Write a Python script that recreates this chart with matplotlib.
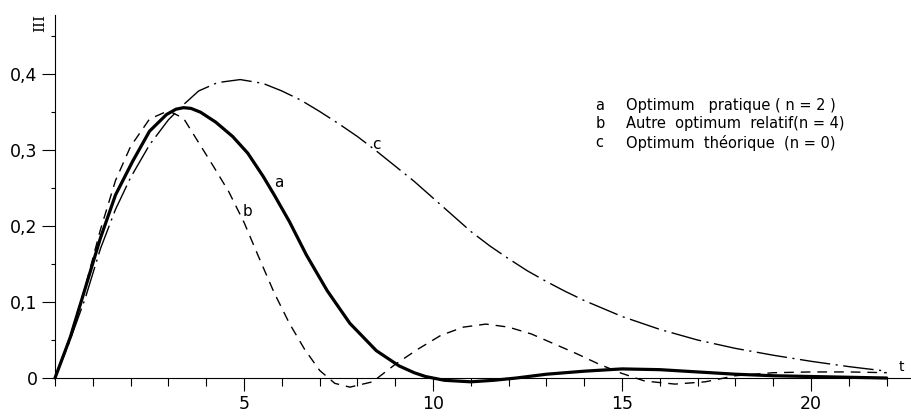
import matplotlib
matplotlib.use("Agg")
import matplotlib.pyplot as plt
from matplotlib.ticker import MultipleLocator, FixedLocator

# curve a: optimum pratique (n=2), thick solid
t_a = [0, 0.4, 0.75, 1.2, 1.6, 2.05, 2.5, 2.95, 3.2, 3.4, 3.6, 3.85, 4.25, 4.7, 5.1,
       5.5, 5.8, 6.2, 6.65, 7.2, 7.8, 8.5, 9.1, 9.5, 9.8, 10.3, 11.0, 11.6, 12.2,
       13.0, 14.0, 15.0, 16.0, 17.0, 18.0, 19.0, 20.0, 21.0, 22.0]
y_a = [0, 0.053, 0.11, 0.184, 0.241, 0.285, 0.325, 0.347, 0.354, 0.356, 0.355, 0.35,
       0.337, 0.318, 0.296, 0.266, 0.241, 0.206, 0.162, 0.115, 0.072, 0.036, 0.016,
       0.007, 0.002, -0.003, -0.005, -0.003, 0.0, 0.005, 0.009, 0.012, 0.011, 0.008,
       0.005, 0.003, 0.002, 0.001, 0.0]

# curve b: autre optimum relatif (n=4), dashed
t_b = [0, 0.4, 0.8, 1.2, 1.6, 2.0, 2.5, 3.0, 3.4, 3.8, 4.2, 4.6, 5.0, 5.4, 5.8, 6.2,
       6.6, 7.0, 7.4, 7.8, 8.4, 9.0, 9.6, 10.2, 10.8, 11.4, 12.0, 12.6, 13.2, 13.8,
       14.4, 15.0, 15.6, 16.4, 17.2, 18.0, 19.0, 20.0, 21.0, 22.0]
y_b = [0, 0.055, 0.12, 0.195, 0.26, 0.305, 0.341, 0.352, 0.342, 0.31, 0.278, 0.245,
       0.205, 0.158, 0.112, 0.072, 0.038, 0.01, -0.007, -0.012, -0.005, 0.018, 0.038,
       0.056, 0.067, 0.071, 0.067, 0.058, 0.045, 0.032, 0.018, 0.006, -0.004, -0.008,
       -0.005, 0.003, 0.007, 0.008, 0.008, 0.007]

# curve c: optimum theorique (n=0), dash-dot
t_c = [0, 0.4, 0.8, 1.2, 1.6, 2.0, 2.5, 3.0, 3.4, 3.8, 4.3, 4.9, 5.5, 6.0, 6.5, 7.0,
       7.5, 8.0, 8.5, 9.0, 9.5, 10.0, 10.5, 11.0, 11.5, 12.0, 12.5, 13.0, 13.5, 14.0,
       15.0, 16.0, 17.0, 18.0, 19.0, 20.0, 21.0, 22.0]
y_c = [0, 0.05, 0.105, 0.17, 0.222, 0.264, 0.307, 0.34, 0.36, 0.378, 0.389, 0.393,
       0.388, 0.378, 0.366, 0.351, 0.335, 0.318, 0.299, 0.279, 0.259, 0.237, 0.215,
       0.193, 0.174, 0.157, 0.141, 0.127, 0.114, 0.102, 0.081, 0.064, 0.05, 0.039,
       0.03, 0.022, 0.015, 0.009]

y_ticks = [0, 0.1, 0.2, 0.3, 0.4]
y_ticklabels = ["0", "0,1", "0,2", "0,3", "0,4"]
x_ticks = [5, 10, 15, 20]
x_ticklabels = ["5", "10", "15", "20"]

legend_keys = ["a", "b", "c"]
legend_texts = ["Optimum   pratique ( n = 2 )",
                "Autre  optimum  relatif(n = 4)",
                "Optimum  théorique  (n = 0)"]

fig = plt.figure(figsize=(9.12, 4.16), dpi=100)
ax = fig.add_axes([0.0603, 0.0913, 0.941, 0.8726])

ax.plot(t_a, y_a, color="black", lw=2.3, clip_on=False,
        solid_capstyle="round", solid_joinstyle="round")
ax.plot(t_b, y_b, color="black", lw=1.0, ls=(0, (7, 5)), clip_on=False)
ax.plot(t_c, y_c, color="black", lw=1.0, ls=(0, (22, 4, 1.5, 4)), clip_on=False)

ax.set_xlim(0, 22.7)
ax.set_ylim(0, 0.478)
for s in ["top", "right"]:
    ax.spines[s].set_visible(False)
for s in ["left", "bottom"]:
    ax.spines[s].set_linewidth(0.8)

ax.xaxis.set_major_locator(FixedLocator(x_ticks))
ax.set_xticklabels(x_ticklabels)
ax.xaxis.set_minor_locator(MultipleLocator(1))
ax.yaxis.set_major_locator(FixedLocator(y_ticks))
ax.set_yticklabels(y_ticklabels)
ax.yaxis.set_minor_locator(MultipleLocator(0.05))

ax.tick_params(axis="x", which="major", length=9.5, width=0.8, pad=3, labelsize=12.5)
ax.tick_params(axis="x", which="minor", length=5.5, width=0.8)
ax.tick_params(axis="y", which="major", length=9.5, width=0.8, pad=3, labelsize=12.5)
ax.tick_params(axis="y", which="minor", length=3, width=0.8)

# curve letters
ax.text(5.92, 0.257, "a", fontsize=11, ha="center", va="center")
ax.text(5.09, 0.219, "b", fontsize=11, ha="center", va="center")
ax.text(8.49, 0.307, "c", fontsize=11, ha="center", va="center")

# legend drawn as text
for i, (k, txt) in enumerate(zip(legend_keys, legend_texts)):
    yy = 0.359 - i * 0.0245
    ax.text(14.3, yy, k, fontsize=10.5, ha="left", va="center")
    ax.text(15.1, yy, txt, fontsize=10.5, ha="left", va="center")

# axis names
ax.text(22.4, 0.015, "t", fontsize=10, ha="center", va="center", clip_on=False)
ax.text(-0.4, 0.468, "III", fontsize=11, family="DejaVu Serif", rotation=90,
        ha="center", va="center", clip_on=False)

fig.savefig("out.png", dpi=100)
